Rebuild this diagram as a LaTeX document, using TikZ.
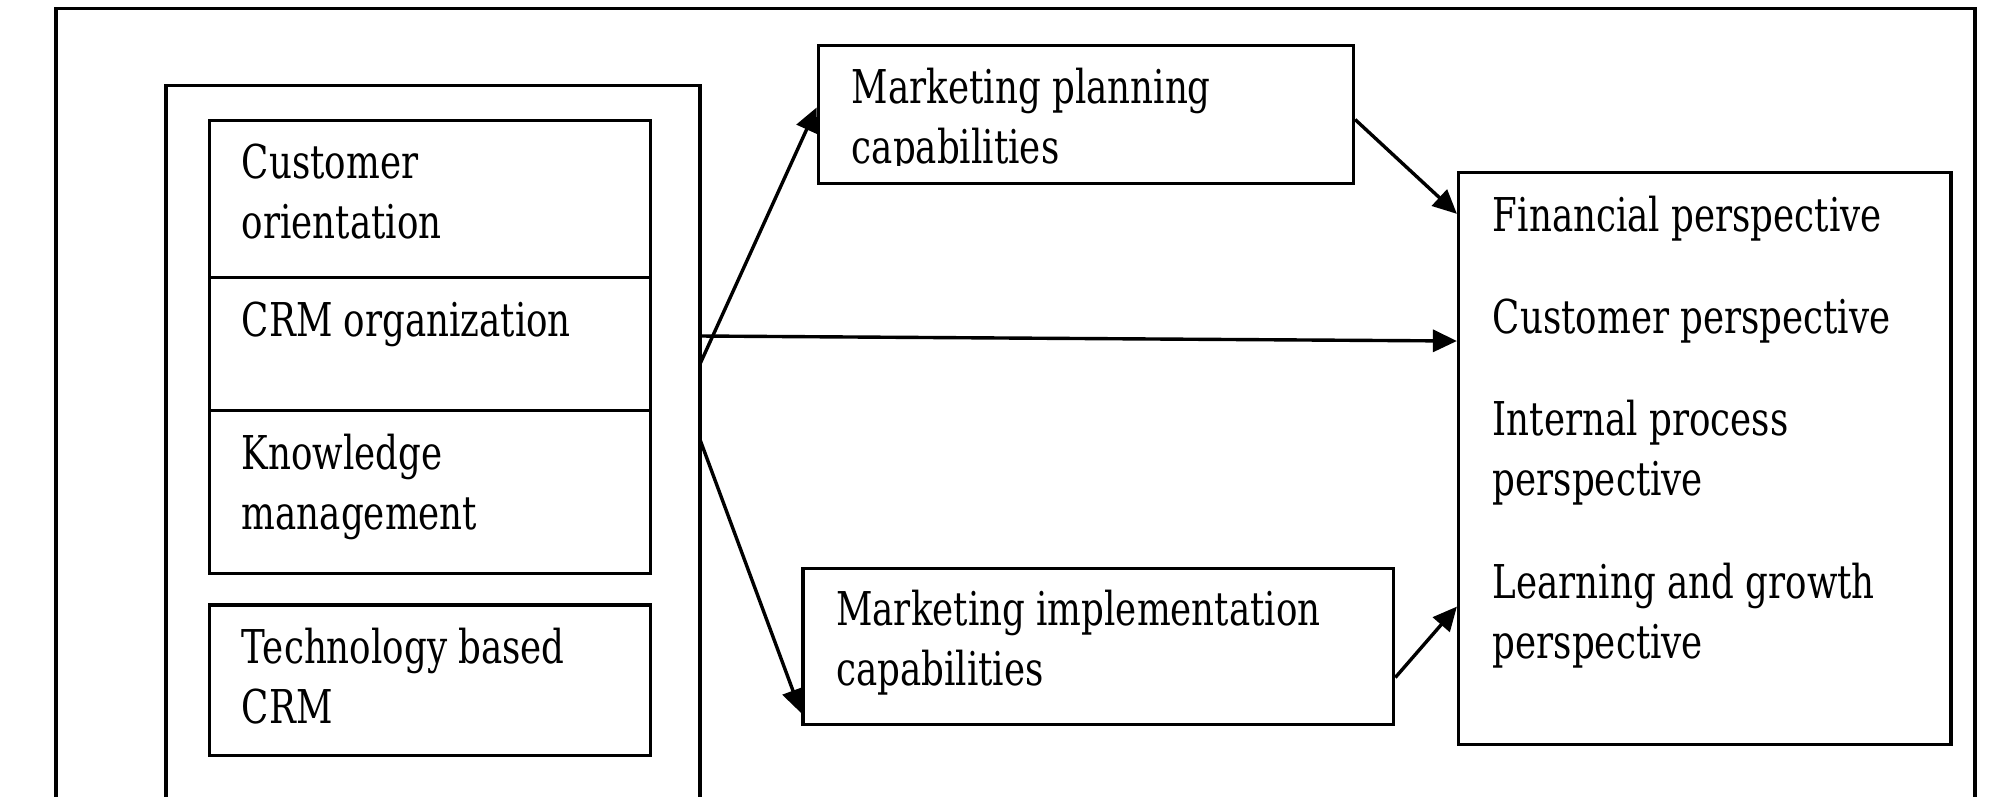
\documentclass[tikz,border=0pt]{standalone}
\usepackage{fontspec}
\setmainfont{DejaVu Serif}[FakeStretch=0.765]
\usetikzlibrary{arrows.meta,calc}
\begin{document}
\begin{tikzpicture}[x=1pt,y=-1pt,
  box/.style={draw,line width=3.4pt,rectangle,inner sep=0pt},
  lbl/.style={anchor=base west,inner sep=0pt,font=\fontsize{46.6pt}{60pt}\selectfont},
  arr/.style={line width=3.4pt,-{Triangle[length=24pt,width=22pt]}},
  frame/.style={line width=3.4pt}]
\useasboundingbox (0,0) rectangle (1995,796);
\fill[white] (0,0) rectangle (1995,796);
% outer frame and left container (open at bottom)
\draw[frame] (56,810) -- (56,8.5) -- (1975,8.5) -- (1975,810);
\draw[frame] (166,810) -- (166,85.5) -- (700,85.5) -- (700,810);
% stacked boxes
\node[box,minimum width=441.3pt,minimum height=157.4pt] (co) at (429.85,199) {};
\node[box,minimum width=441.3pt,minimum height=132.5pt] (crm) at (429.85,343.95) {};
\node[box,minimum width=441.3pt,minimum height=163.4pt] (km) at (429.85,491.9) {};
\node[box,minimum width=441.3pt,minimum height=150.3pt] (tech) at (429.85,680.15) {};
% right column boxes
\node[box,minimum width=535.1pt,minimum height=137.6pt] (plan) at (1085.85,114.5) {};
\node[box,minimum width=590.6pt,minimum height=155.9pt] (impl) at (1098.3,646.5) {};
\node[box,minimum width=492.4pt,minimum height=572.1pt] (rbox) at (1704.8,458.6) {};
% texts
\node[lbl] (t1) at (241.7,178.3) {Customer};
\node[lbl] (t2) at (241.7,238.3) {orientation};
\node[lbl] (t3) at (241.7,336.7) {CRM organization};
\node[lbl] (t4) at (241.7,469.5) {Knowledge};
\node[lbl] (t5) at (241.7,529.5) {management};
\node[lbl] (t6) at (241.7,663) {Technology based};
\node[lbl] (t7) at (241.7,723) {CRM};
\node[lbl] (t8) at (851.7,103.3) {Marketing planning};
\begin{scope}
\clip (818,45) rectangle (1353,165.5);
\node[lbl] (t9) at (851.7,163.3) {capabilities};
\end{scope}
\node[lbl] (t10) at (836,625.4) {Marketing implementation};
\node[lbl] (t11) at (836,685.4) {capabilities};
\node[lbl] (t12) at (1492.7,231.7) {Financial perspective};
\node[lbl] (t13) at (1492.7,333.3) {Customer perspective};
\node[lbl] (t14) at (1492.7,435) {Internal process};
\node[lbl] (t15) at (1492.7,495) {perspective};
\node[lbl] (t16) at (1492.7,598) {Learning and growth};
\node[lbl] (t17) at (1492.7,658) {perspective};
% connector start points on the left container edge
\coordinate (L1) at (700,364);
\coordinate (L2) at (700,336);
\coordinate (L3) at (700,439.6);
% connectors
\draw[arr] (L1) -- ([yshift=7pt]plan.west);
\draw[arr] (L2) -- ([yshift=117.6pt]rbox.west);
\draw[arr] (L3) -- ([yshift=-66.7pt]impl.west);
\draw[arr] ([yshift=-5pt]plan.east) -- ([yshift=-43pt]rbox.north west);
\draw[arr] ([yshift=-31pt]impl.east) -- ([yshift=-148pt]rbox.west);
\end{tikzpicture}
\end{document}
